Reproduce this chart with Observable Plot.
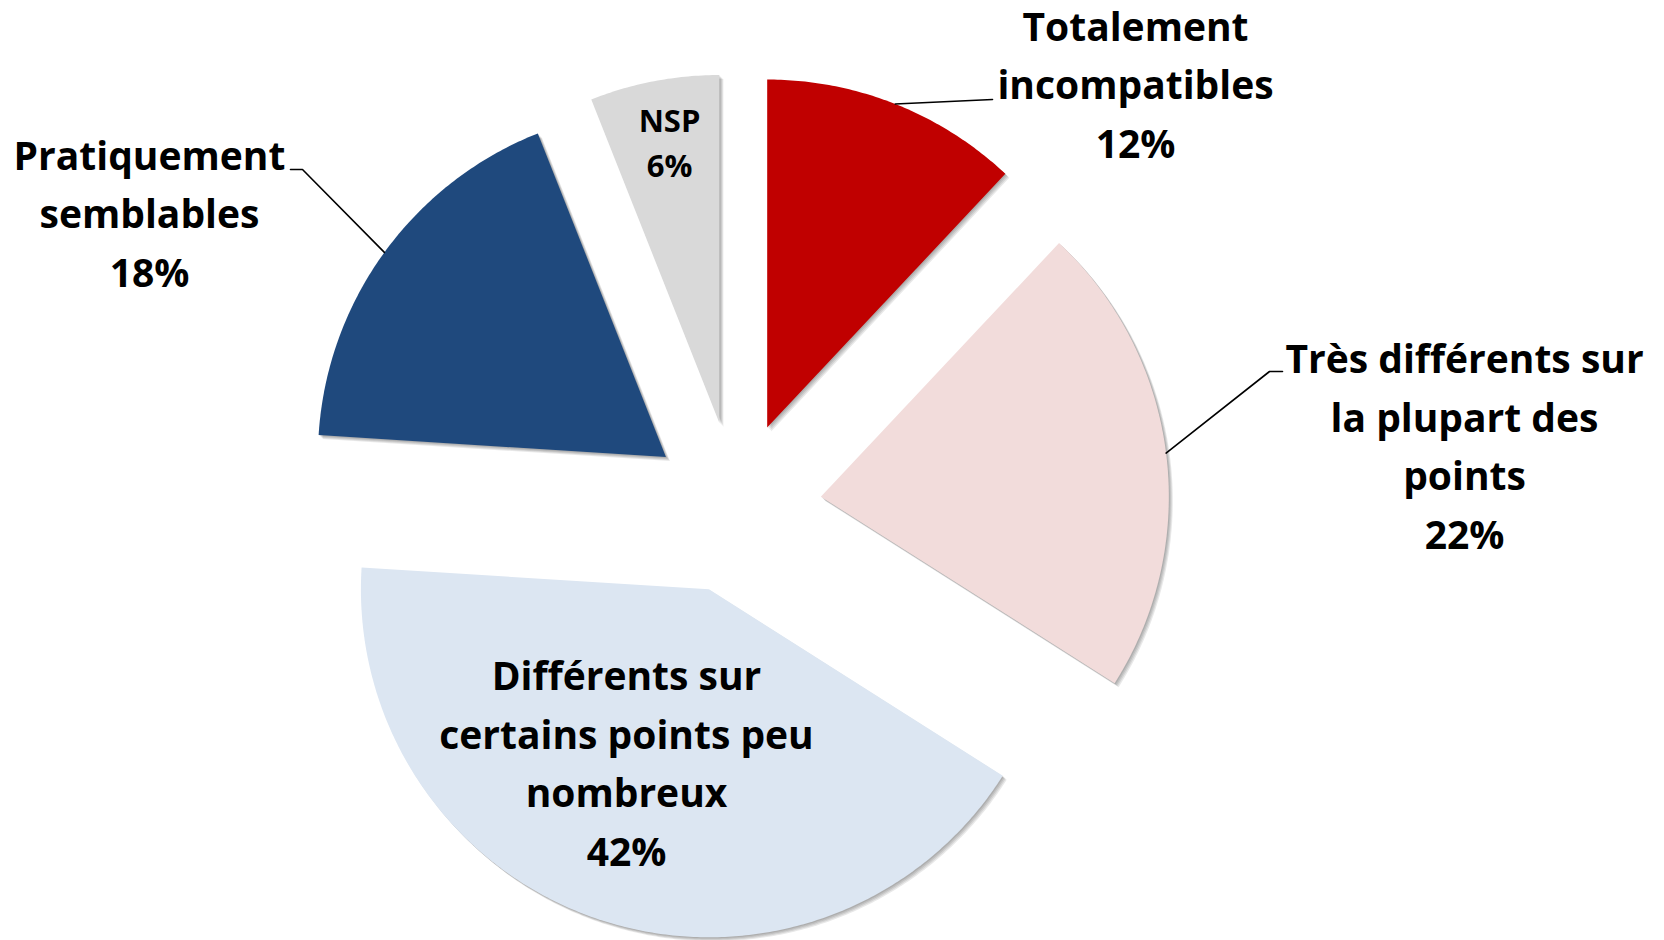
<!DOCTYPE html>
<html><head><meta charset="utf-8">
<script src="https://cdn.jsdelivr.net/npm/d3@7"></script>
<script src="https://cdn.jsdelivr.net/npm/@observablehq/plot@0.6"></script>
<style>html,body{margin:0;padding:0;background:#fff;overflow:hidden;} #chart svg{display:block;}</style>
</head><body><div id="chart"></div>
<script>
// ---- data ----
const categories = ["Totalement incompatibles","Très différents sur la plupart des points","Différents sur certains points peu nombreux","Pratiquement semblables","NSP"];
const values = [12, 22, 42, 18, 6];
const labelLines = [["Totalement","incompatibles"],["Très différents sur","la plupart des","points"],["Différents sur","certains points peu","nombreux"],["Pratiquement","semblables"],["NSP"]];
const colors = ["#C00000","#F2DCDB","#DCE6F2","#1F497D","#D9D9D9"];

// ---- layout (pixels) ----
const W = 1664, H = 940, CX = 735, CY = 507, R = 348, EXPLODE = 86;
const labelPos = [[1135,80],[1464,442],[626,759],[149,209],[669,140]];
const leaderElbows = [[[992,99]], [[1269,371],[1282,371]], null, [[302,169],[290,169]], null];

const toX = px => (px - CX) / R, toY = py => (CY - py) / R;
const e = EXPLODE / R;

const arcs = d3.pie().sort(null).value(d => d)(values);
const slicePts = [], leaderPts = [], labels = [];
arcs.forEach((a, i) => {
  const m = (a.startAngle + a.endAngle) / 2;
  const ox = e * Math.sin(m), oy = e * Math.cos(m);
  const key = categories[i];
  slicePts.push({key, x: ox, y: oy});
  const n = Math.max(8, Math.ceil((a.endAngle - a.startAngle) / 0.01));
  for (let k = 0; k <= n; k++) {
    const t = a.startAngle + (a.endAngle - a.startAngle) * k / n;
    slicePts.push({key, x: ox + Math.sin(t), y: oy + Math.cos(t)});
  }
  slicePts.push({key, x: ox, y: oy});
  if (leaderElbows[i]) {
    leaderPts.push({key, x: ox + Math.sin(m), y: oy + Math.cos(m)});
    leaderElbows[i].forEach(([px, py]) => leaderPts.push({key, x: toX(px), y: toY(py)}));
  }
  labels.push({key, small: i === 4, x: toX(labelPos[i][0]), y: toY(labelPos[i][1]),
    text: labelLines[i].concat([values[i] + "%"]).join("\n")});
});

const shadowLayers = [[1,1],[2,2],[3,3],[4,4]].map(([dx, dy]) =>
  Plot.line(slicePts, {x: "x", y: "y", z: "key", fill: "#000", fillOpacity: 0.09, stroke: "none", dx, dy}));

const svg = Plot.plot({
  width: W, height: H, margin: 0,
  x: {domain: [toX(0), toX(W)], range: [0, W], axis: null},
  y: {domain: [toY(H), toY(0)], range: [H, 0], axis: null},
  color: {domain: categories, range: colors},
  style: {background: "#fff"},
  marks: [
    ...shadowLayers,
    Plot.line(slicePts, {x: "x", y: "y", z: "key", fill: "key", stroke: "none"}),
    Plot.line(leaderPts, {x: "x", y: "y", z: "key", stroke: "#000", strokeWidth: 1.6}),
    Plot.text(labels.filter(d => !d.small), {x: "x", y: "y", text: "text", fontSize: 39, fontWeight: "bold",
      fontFamily: "'Open Sans', sans-serif", fill: "#000", lineHeight: 1.5, textAnchor: "middle", lineAnchor: "middle"}),
    Plot.text(labels.filter(d => d.small), {x: "x", y: "y", text: "text", fontSize: 31, fontWeight: "bold",
      fontFamily: "'Open Sans', sans-serif", fill: "#000", lineHeight: 1.45, textAnchor: "middle", lineAnchor: "middle"})
  ]
});
document.getElementById("chart").appendChild(svg);
</script>
</body></html>
